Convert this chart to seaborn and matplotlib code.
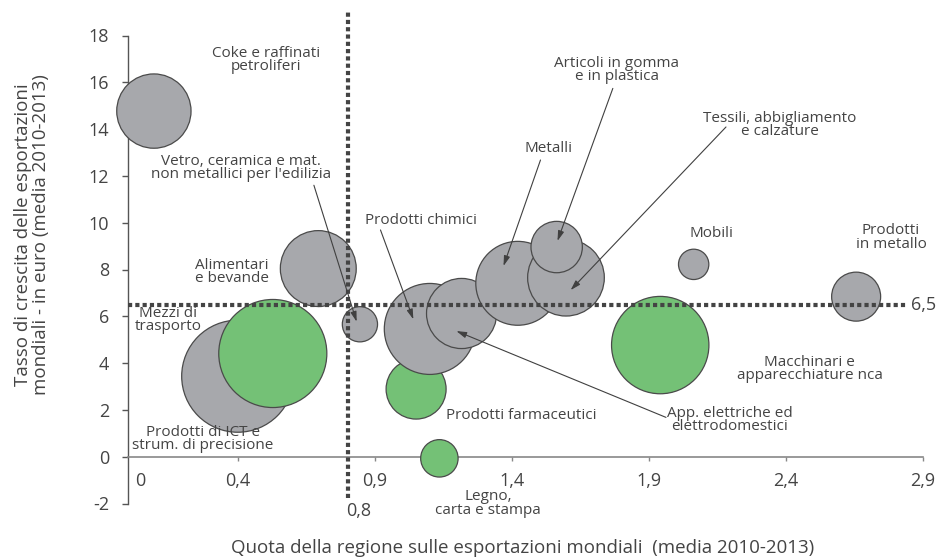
import numpy as np
import pandas as pd
import matplotlib
matplotlib.use("Agg")
import matplotlib.pyplot as plt
import seaborn as sns
from matplotlib.transforms import ScaledTranslation

# ---------------- data ----------------
settori = ["Coke e raffinati petroliferi", "Alimentari e bevande", "Prodotti di ICT e strum. di precisione",
           "Mezzi di trasporto", "Vetro, ceramica e mat. non metallici per l'edilizia", "Prodotti farmaceutici",
           "Prodotti chimici", "App. elettriche ed elettrodomestici", "Legno, carta e stampa", "Metalli",
           "Tessili, abbigliamento e calzature", "Articoli in gomma e in plastica", "Mobili",
           "Macchinari e apparecchiature nca", "Prodotti in metallo"]
quota = [0.093, 0.693, 0.399, 0.527, 0.845, 1.050, 1.100, 1.216, 1.135, 1.421, 1.597, 1.563, 2.063, 1.941, 2.656]
crescita = [14.77, 8.04, 3.44, 4.41, 5.66, 2.89, 5.46, 6.12, -0.07, 7.41, 7.65, 8.96, 8.22, 4.77, 6.84]
peso = [13.8, 14.4, 31.4, 29.2, 3.1, 9.0, 20.7, 12.3, 3.5, 17.6, 14.7, 6.6, 2.3, 23.7, 6.0]
gruppo = ["altri", "altri", "altri", "evidenziati", "altri", "evidenziati", "altri", "altri", "evidenziati",
          "altri", "altri", "altri", "altri", "evidenziati", "altri"]

x_ticks = [0, 0.4, 0.9, 1.4, 1.9, 2.4, 2.9]
x_ticklabels = ["0", "0,4", "0,9", "1,4", "1,9", "2,4", "2,9"]
y_ticks = [-2, 0, 2, 4, 6, 8, 10, 12, 14, 16, 18]
soglia_x = 0.8
soglia_y = 6.5

# label text, label position, arrow start, arrow head (None = no arrow)
etichette = [
    ("Coke e raffinati\npetroliferi", (0.503, 16.95), None, None),
    ("Vetro, ceramica e mat.\nnon metallici per l'edilizia", (0.411, 12.34), (0.677, 11.60), (0.833, 5.77)),
    ("Alimentari\ne bevande", (0.378, 7.89), None, None),
    ("Mezzi di\ntrasporto", (0.145, 5.84), None, None),
    ("Prodotti di ICT e\nstrum. di precisione", (0.272, 0.76), None, None),
    ("Prodotti chimici", (1.068, 10.10), (0.920, 9.69), (1.040, 5.87)),
    ("Metalli", (1.535, 13.15), (1.504, 12.68), (1.369, 8.15)),
    ("Articoli in gomma\ne in plastica", (1.783, 16.53), (1.768, 15.74), (1.566, 9.22)),
    ("Tessili, abbigliamento\ne calzature", (2.378, 14.18), (2.181, 14.09), (1.614, 7.12)),
    ("Mobili", (2.128, 9.55), None, None),
    ("Prodotti\nin metallo", (2.783, 9.37), None, None),
    ("Macchinari e\napparecchiature nca", (2.487, 3.75), None, None),
    ("App. elettriche ed\nelettrodomestici", (2.195, 1.57), (1.962, 1.68), (1.197, 5.37)),
    ("Prodotti farmaceutici", (1.435, 1.78), None, None),
    ("Legno,\ncarta e stampa", (1.312, -2.01), None, None),
]

df = pd.DataFrame({"settore": settori, "quota": quota, "crescita": crescita,
                   "peso": peso, "gruppo": gruppo})

# ---------------- style ----------------
sns.set_style("ticks")
plt.rcParams["font.family"] = ["Open Sans", "DejaVu Sans"]
TXT = "#444444"
FS_TICK = 13
FS_LAB = 13.5
FS_ANN = 11

fig = plt.figure(figsize=(9.41, 5.6), dpi=100)
ax = fig.add_axes([128.4 / 941, 1 - 503.5 / 560, 794.6 / 941, 468 / 560])

vmax = max(peso)
sns.scatterplot(data=df, x="quota", y="crescita", size="peso", hue="gruppo",
                palette={"altri": "#a7a8ac", "evidenziati": "#74c176"},
                sizes=(0, 207.36 * vmax), size_norm=(0, vmax),
                edgecolor="#4a4a4a", linewidth=0.9, alpha=1, legend=False,
                ax=ax, zorder=3, clip_on=False)

ax.set_xlim(0, 2.9)
ax.set_ylim(-2, 18)

# dashed threshold lines
ax.plot([soglia_x, soglia_x], [-1.75, 19.0], color="#444444", lw=3,
        linestyle=(0, (1, 0.75)), zorder=4, clip_on=False)
ax.plot([0, 2.84], [soglia_y, soglia_y], color="#444444", lw=3,
        linestyle=(0, (1, 0.75)), zorder=4, clip_on=False)
ax.text(2.855, soglia_y, "6,5", ha="left", va="center", fontsize=FS_TICK, color=TXT, clip_on=False)
ax.text(0.793, -2.3, "0,8", ha="left", va="center", fontsize=FS_TICK, color=TXT, clip_on=False)

# spines
sns.despine(ax=ax)
ax.spines["bottom"].set_position(("data", 0))
ax.spines["left"].set_color("#555555")
ax.spines["bottom"].set_color("#888888")
ax.spines["left"].set_linewidth(1.0)
ax.spines["bottom"].set_linewidth(1.2)

ax.set_xticks(x_ticks)
ax.set_xticklabels(x_ticklabels)
ax.set_yticks(y_ticks)
ax.set_yticklabels([str(v) for v in y_ticks])
ax.tick_params(axis="x", length=3, width=1, color="#888888", pad=8, labelsize=FS_TICK, labelcolor=TXT)
ax.tick_params(axis="y", length=4, width=1, color="#555555", pad=10, labelsize=FS_TICK, labelcolor=TXT)
t0 = ax.xaxis.get_major_ticks()[0]
t0.tick1line.set_visible(False)
t0.label1.set_transform(t0.label1.get_transform() + ScaledTranslation(12 / 100, 0, fig.dpi_scale_trans))
ax.set_xlabel("")
ax.set_ylabel("")

# annotations
for testo, pos, start, head in etichette:
    ax.text(pos[0], pos[1], testo, ha="center", va="center", multialignment="center",
            fontsize=FS_ANN, color=TXT, linespacing=0.88, zorder=6, clip_on=False)
    if start is not None:
        ax.annotate("", xy=head, xytext=start,
                    arrowprops=dict(arrowstyle="-|>,head_length=0.6,head_width=0.18",
                                    color="#404040", lw=0.8, shrinkA=0, shrinkB=0),
                    zorder=6)

fig.text(523 / 941, 1 - 548 / 560, "Quota della regione sulle esportazioni mondiali  (media 2010-2013)",
         ha="center", va="center", fontsize=FS_LAB, color=TXT)
fig.text(32.5 / 941, 1 - 235 / 560,
         "Tasso di crescita delle esportazioni\nmondiali - in euro (media 2010-2013)",
         ha="center", va="center", rotation=90, fontsize=FS_LAB, color=TXT,
         multialignment="center", linespacing=1.0)

fig.savefig("out.png", dpi=100)
